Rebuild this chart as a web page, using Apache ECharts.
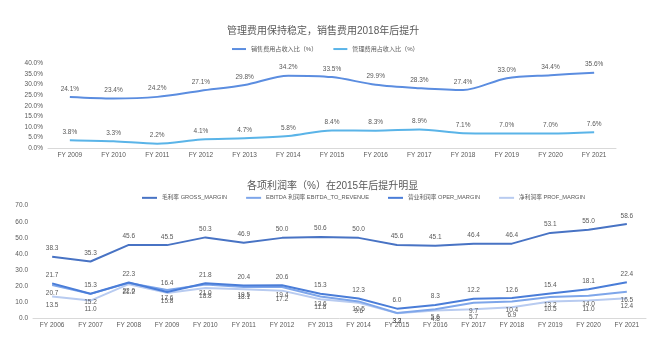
<!DOCTYPE html>
<html>
<head>
<meta charset="utf-8">
<script src="https://cdn.jsdelivr.net/npm/echarts@6/dist/echarts.min.js"></script>
<style>html,body{margin:0;padding:0;background:#fff;}#c{width:653px;height:340px;}</style>
</head>
<body>
<div id="c"></div>
<script>
// ---- Top chart data ----
var topYears = ['FY 2009','FY 2010','FY 2011','FY 2012','FY 2013','FY 2014','FY 2015','FY 2016','FY 2017','FY 2018','FY 2019','FY 2020','FY 2021'];
var salesRatio = [24.1, 23.4, 24.2, 27.1, 29.8, 34.2, 33.5, 29.9, 28.3, 27.4, 33.0, 34.4, 35.6];
var adminRatio = [3.8, 3.3, 2.2, 4.1, 4.7, 5.8, 8.4, 8.3, 8.9, 7.1, 7.0, 7.0, 7.6];

// ---- Bottom chart data ----
var botYears = ['FY 2006','FY 2007','FY 2008','FY 2009','FY 2010','FY 2011','FY 2012','FY 2013','FY 2014','FY 2015','FY 2016','FY 2017','FY 2018','FY 2019','FY 2020','FY 2021'];
var grossMargin = [38.3, 35.3, 45.6, 45.5, 50.3, 46.9, 50.0, 50.6, 50.0, 45.6, 45.1, 46.4, 46.4, 53.1, 55.0, 58.6];
var operMargin  = [21.7, 15.3, 22.3, 16.4, 21.8, 20.4, 20.6, 15.3, 12.3, 6.0, 8.3, 12.2, 12.6, 15.4, 18.1, 22.4];
var ebitdaMargin= [20.7, 15.2, 22.0, 17.6, 21.0, 19.5, 19.4, 13.6, 10.5, 3.3, 5.6, 9.7, 10.4, 13.2, 14.0, 16.5];
var profMargin  = [13.5, 11.0, 21.2, 15.8, 18.8, 18.1, 17.2, 11.8, 9.6, 3.2, 4.8, 5.7, 6.9, 10.5, 11.0, 12.4];

var names = {
  sales: '销售费用占收入比（%）',
  admin: '管理费用占收入比（%）',
  gross: '毛利率 GROSS_MARGIN',
  ebitda: 'EBITDA 利润率 EBITDA_TO_REVENUE',
  oper: '营业利润率 OPER_MARGIN',
  prof: '净利润率 PROF_MARGIN'
};

var txt = '#595959';
var fs = 6.5;
var ff = 'Liberation Sans, "Noto Sans CJK SC", sans-serif';

function lbl(pos, suffix) {
  return {
    show: true, position: pos, distance: 5, color: txt, fontSize: fs, fontFamily: ff,
    formatter: function (p) { return p.value.toFixed(1) + (suffix || ''); }
  };
}
function line(name, data, color, xi, pos, suffix, smooth, z) {
  return {
    name: name, type: 'line', data: data, xAxisIndex: xi, yAxisIndex: xi,
    showSymbol: true, symbol: 'circle', symbolSize: 0.01, smooth: smooth, z: z || 2,
    lineStyle: { color: color, width: 2 }, itemStyle: { color: color },
    label: lbl(pos, suffix), emphasis: { disabled: true }, labelLayout: { hideOverlap: false }
  };
}

var chart = echarts.init(document.getElementById('c'), null, { renderer: 'canvas' });
chart.setOption({
  animation: false,
  backgroundColor: '#fff',
  textStyle: { fontFamily: ff },
  title: [
    { text: '管理费用保持稳定，销售费用2018年后提升', left: 227, top: 26, padding: 0,
      textStyle: { fontSize: 10, fontWeight: 'normal', color: txt, fontFamily: ff } },
    { text: '各项利润率（%）在2015年后提升明显', left: 247, top: 181, padding: 0,
      textStyle: { fontSize: 10, fontWeight: 'normal', color: txt, fontFamily: ff } }
  ],
  legend: [
    { data: [names.sales, names.admin], left: 232, top: 46, padding: 0, itemGap: 16, itemTextGap: 3,
      icon: 'rect', itemWidth: 14, itemHeight: 2,
      textStyle: { fontSize: 6.1, color: txt, fontFamily: ff } },
    { data: [names.gross, names.ebitda, names.oper, names.prof], left: 142, top: 195, padding: 0, itemGap: 19, itemTextGap: 3,
      icon: 'rect', itemWidth: 15, itemHeight: 2,
      textStyle: { fontSize: 5.7, color: txt, fontFamily: ff } }
  ],
  grid: [
    { left: 48, right: 37, top: 63.3, height: 85 },
    { left: 33, right: 7, top: 205.7, height: 112.6 }
  ],
  xAxis: [
    { type: 'category', data: topYears, gridIndex: 0, boundaryGap: true,
      axisLine: { lineStyle: { color: '#d9d9d9' } }, axisTick: { show: false },
      axisLabel: { color: txt, fontSize: fs, margin: 3.5, interval: 0, fontFamily: ff } },
    { type: 'category', data: botYears, gridIndex: 1, boundaryGap: true,
      axisLine: { lineStyle: { color: '#d9d9d9' } }, axisTick: { show: false },
      axisLabel: { color: txt, fontSize: fs, margin: 3.5, interval: 0, fontFamily: ff } }
  ],
  yAxis: [
    { type: 'value', gridIndex: 0, min: 0, max: 40, interval: 5,
      axisLine: { show: false }, axisTick: { show: false }, splitLine: { show: false },
      axisLabel: { color: txt, fontSize: fs, margin: 5, fontFamily: ff,
        formatter: function (v) { return v.toFixed(1) + '%'; } } },
    { type: 'value', gridIndex: 1, min: 0, max: 70, interval: 10,
      axisLine: { show: false }, axisTick: { show: false }, splitLine: { show: false },
      axisLabel: { color: txt, fontSize: fs, margin: 5, fontFamily: ff,
        formatter: function (v) { return v.toFixed(1); } } }
  ],
  series: [
    line(names.sales, salesRatio, '#5b8de0', 0, 'top', '%', 0.3),
    line(names.admin, adminRatio, '#5ab4e8', 0, 'top', '%', 0.3),
    line(names.prof, profMargin, '#b8cbf0', 1, 'bottom', '', false, 2),
    line(names.ebitda, ebitdaMargin, '#7ea6ea', 1, 'bottom', '', false, 3),
    line(names.oper, operMargin, '#4a7dd8', 1, 'top', '', false, 4),
    line(names.gross, grossMargin, '#4873c4', 1, 'top', '', false, 5)
  ]
});
</script>
</body>
</html>
